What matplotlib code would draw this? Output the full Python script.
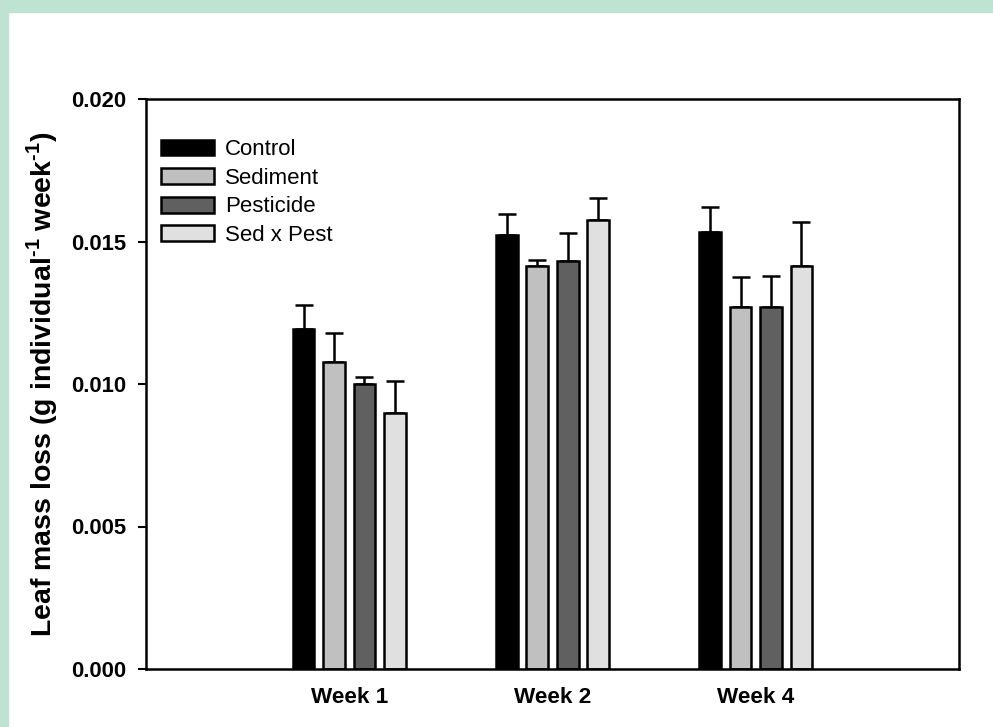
import numpy as np
import matplotlib.pyplot as plt
from matplotlib.patches import Rectangle

plt.rcParams['font.family'] = ['Liberation Sans', 'DejaVu Sans']
plt.rcParams['mathtext.fontset'] = 'custom'
plt.rcParams['mathtext.rm'] = 'Liberation Sans:bold'
plt.rcParams['mathtext.bf'] = 'Liberation Sans:bold'

# leaf mass loss per treatment, mean and upper error
weeks = ['Week 1', 'Week 2', 'Week 4']
treatments = ['Control', 'Sediment', 'Pesticide', 'Sed x Pest']
control = [0.01193, 0.01524, 0.01535]
sediment = [0.01077, 0.01415, 0.01269]
pesticide = [0.01000, 0.01432, 0.01269]
sed_pest = [0.00898, 0.01576, 0.01415]
control_err = [0.00084, 0.00074, 0.00086]
sediment_err = [0.00102, 0.00020, 0.00108]
pesticide_err = [0.00025, 0.00097, 0.00111]
sed_pest_err = [0.00113, 0.00076, 0.00152]

means = [control, sediment, pesticide, sed_pest]
errs = [control_err, sediment_err, pesticide_err, sed_pest_err]
colors = ['#000000', '#c0c0c0', '#606060', '#e0e0e0']

fig = plt.figure(figsize=(9.93, 7.27), dpi=100)
# mint frame along top and left
fig.patches.append(Rectangle((0, 1 - 12 / 727), 1, 12 / 727, transform=fig.transFigure,
                             color='#bfe3d3', zorder=0))
fig.patches.append(Rectangle((0, 0), 8 / 993, 1, transform=fig.transFigure,
                             color='#bfe3d3', zorder=0))

ax = fig.add_axes([146 / 993, 1 - 669 / 727, (959 - 146) / 993, (669 - 99) / 727])

x = np.arange(1, len(weeks) + 1)
width = 0.108
offsets = [-0.225, -0.075, 0.075, 0.225]
for i in range(len(treatments)):
    ax.bar(x + offsets[i], means[i], width, color=colors[i], edgecolor='black',
           linewidth=1.8, label=treatments[i], zorder=2)
    ax.errorbar(x + offsets[i], means[i], yerr=[np.zeros(3), errs[i]], fmt='none',
                ecolor='black', elinewidth=1.8, capsize=6.5, capthick=1.8, zorder=1)

ax.set_xlim(0, 4)
ax.set_ylim(0, 0.02)
ax.set_yticks([0, 0.005, 0.01, 0.015, 0.02])
ax.set_yticklabels(['0.000', '0.005', '0.010', '0.015', '0.020'], fontweight='bold', fontsize=15.8)
ax.set_xticks(x)
ax.set_xticklabels(weeks, fontweight='bold', fontsize=16.2)
ax.tick_params(axis='x', length=0, pad=13)
ax.tick_params(axis='y', direction='out', length=6, width=1.5, pad=8)
for s in ax.spines.values():
    s.set_linewidth(1.8)

ax.set_ylabel('Leaf mass loss (g individual$^{\\text{-1}}$ week$^{\\text{-1}}$)',
              fontweight='bold', fontsize=20.5, labelpad=8)

ax.legend(loc='upper left', bbox_to_anchor=(0.008, 0.945), frameon=False, fontsize=16,
          handlelength=2.35, handleheight=0.72, labelspacing=0.34, handletextpad=0.5,
          borderaxespad=0)

fig.savefig('out.png', dpi=100)
